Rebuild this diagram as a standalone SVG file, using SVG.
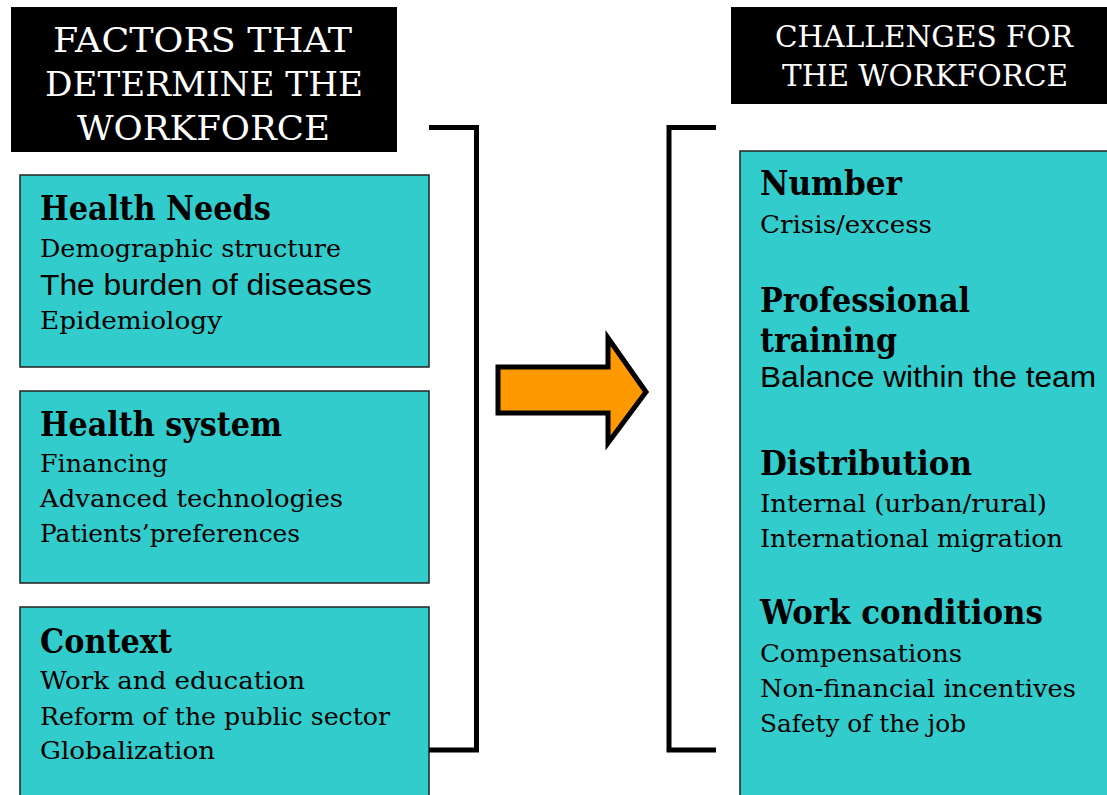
<svg xmlns="http://www.w3.org/2000/svg" width="1107" height="795" viewBox="0 0 1107 795">
<style>
.hdr{fill:#000}
.ht{font-family:"DejaVu Serif","Liberation Serif",serif;fill:#fff}
.box{fill:#33CCCC;stroke:#222;stroke-width:1.5}
.h{font-family:"DejaVu Serif","Liberation Serif",serif;font-weight:bold;font-size:33px;fill:#000}
.b{font-family:"DejaVu Serif","Liberation Serif",serif;font-size:24px;fill:#000}
.s{font-family:"Liberation Sans",Arial,sans-serif;font-size:29px;fill:#000}
.br{fill:none;stroke:#000;stroke-width:5}
</style>
<rect width="1107" height="795" fill="#fff"/>
<g id="header-left">
<rect class="hdr" x="11" y="7" width="386" height="145"/>
<text class="ht" font-size="33" x="53" y="52" textLength="299" lengthAdjust="spacingAndGlyphs">FACTORS THAT</text>
<text class="ht" font-size="33" x="45" y="96" textLength="318" lengthAdjust="spacingAndGlyphs">DETERMINE THE</text>
<text class="ht" font-size="33" x="77" y="140" textLength="253" lengthAdjust="spacingAndGlyphs">WORKFORCE</text>
</g>
<g id="header-right">
<rect class="hdr" x="731" y="7" width="376" height="97"/>
<text class="ht" font-size="29" x="775" y="47" textLength="298" lengthAdjust="spacingAndGlyphs">CHALLENGES FOR</text>
<text class="ht" font-size="29" x="782" y="86" textLength="286" lengthAdjust="spacingAndGlyphs">THE WORKFORCE</text>
</g>
<g id="health-needs">
<rect class="box" x="20" y="175" width="409" height="192"/>
<text class="h" x="40" y="220" textLength="231" lengthAdjust="spacingAndGlyphs">Health Needs</text>
<text class="b" x="40" y="257" textLength="301" lengthAdjust="spacingAndGlyphs">Demographic structure</text>
<text class="s" x="40" y="295" textLength="332" lengthAdjust="spacingAndGlyphs">The burden of diseases</text>
<text class="b" x="40" y="329" textLength="182" lengthAdjust="spacingAndGlyphs">Epidemiology</text>
</g>
<g id="health-system">
<rect class="box" x="20" y="391" width="409" height="192"/>
<text class="h" x="40" y="436" textLength="242" lengthAdjust="spacingAndGlyphs">Health system</text>
<text class="b" x="40" y="472" textLength="128" lengthAdjust="spacingAndGlyphs">Financing</text>
<text class="b" x="40" y="507" textLength="303" lengthAdjust="spacingAndGlyphs">Advanced technologies</text>
<text class="b" x="40" y="542" textLength="260" lengthAdjust="spacingAndGlyphs">Patients’preferences</text>
</g>
<g id="context">
<rect class="box" x="20" y="607" width="409" height="200"/>
<text class="h" x="40" y="653" textLength="132" lengthAdjust="spacingAndGlyphs">Context</text>
<text class="b" x="40" y="689" textLength="265" lengthAdjust="spacingAndGlyphs">Work and education</text>
<text class="b" x="40" y="725" textLength="350" lengthAdjust="spacingAndGlyphs">Reform of the public sector</text>
<text class="b" x="40" y="759" textLength="175" lengthAdjust="spacingAndGlyphs">Globalization</text>
</g>
<g id="challenges">
<rect class="box" x="740" y="151" width="380" height="660"/>
<text class="h" x="760" y="195" textLength="142" lengthAdjust="spacingAndGlyphs">Number</text>
<text class="b" x="760" y="233" textLength="172" lengthAdjust="spacingAndGlyphs">Crisis/excess</text>
<text class="h" x="760" y="312" textLength="210" lengthAdjust="spacingAndGlyphs">Professional</text>
<text class="h" x="760" y="352" textLength="137" lengthAdjust="spacingAndGlyphs">training</text>
<text class="s" x="760" y="387" textLength="336" lengthAdjust="spacingAndGlyphs">Balance within the team</text>
<text class="h" x="760" y="475" textLength="212" lengthAdjust="spacingAndGlyphs">Distribution</text>
<text class="b" x="760" y="512" textLength="287" lengthAdjust="spacingAndGlyphs">Internal (urban/rural)</text>
<text class="b" x="760" y="547" textLength="303" lengthAdjust="spacingAndGlyphs">International migration</text>
<text class="h" x="760" y="624" textLength="283" lengthAdjust="spacingAndGlyphs">Work conditions</text>
<text class="b" x="760" y="662" textLength="202" lengthAdjust="spacingAndGlyphs">Compensations</text>
<text class="b" x="760" y="697" textLength="316" lengthAdjust="spacingAndGlyphs">Non-financial incentives</text>
<text class="b" x="760" y="732" textLength="206" lengthAdjust="spacingAndGlyphs">Safety of the job</text>
</g>
<g id="connectors">
<path class="br" d="M429,127.5 H476.5 V750 H429"/>
<path class="br" d="M716,127.5 H669 V750 H716"/>
<polygon points="498,367 608,367 608,338 646,392 608,443 608,413 498,413" fill="#FF9900" stroke="#000" stroke-width="5" stroke-linejoin="miter"/>
</g>
</svg>
